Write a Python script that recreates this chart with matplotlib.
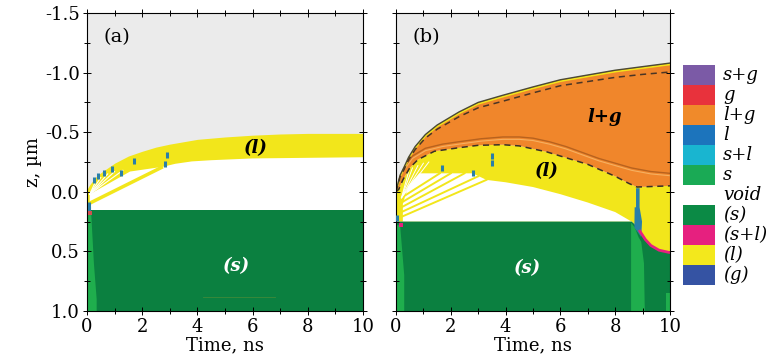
import matplotlib
matplotlib.use('Agg')
import matplotlib.pyplot as plt
from matplotlib.ticker import MultipleLocator, FormatStrFormatter

plt.rcParams['font.family'] = 'DejaVu Serif'
plt.rcParams['axes.unicode_minus'] = False

# ---------------- data (time in ns, z in um) ----------------
# panel (a): liquid band
a_band_t = [0, 0.1, 0.3, 0.5, 1.0, 1.5, 2.0, 2.5, 3.0, 3.5, 4.0, 5.0, 6.0, 7.0, 8.0, 10.0]
a_band_top = [-0.02, -0.06, -0.12, -0.16, -0.24, -0.30, -0.34, -0.375, -0.40, -0.42, -0.44, -0.46, -0.475, -0.485, -0.49, -0.49]
a_void_t = [0.1, 1.56, 2.75, 3.2, 3.8, 4.5, 6.0, 8.0, 10.0]
a_void_top = [0.02, -0.17, -0.21, -0.235, -0.255, -0.265, -0.28, -0.285, -0.29]
a_solid_top = 0.153
a_fan_t = [0.3, 0.5, 0.75, 1.0, 1.3]
a_fan_z = [-0.08, -0.12, -0.15, -0.17, -0.18]
a_streak_t = [0.06, 2.75]
a_streak_z = [0.10, -0.21]
a_lgreen_t = [0, 0.15, 0.25, 0.35, 0.35, 0]
a_lgreen_z = [0.17, 0.17, 0.6, 0.9, 1.0, 1.0]
a_mark_t = [0.08, 0.08, 0.25, 0.4, 0.6, 0.92, 1.22, 1.7, 2.83, 2.91]
a_mark_z = [0.11, 0.15, -0.10, -0.13, -0.16, -0.19, -0.16, -0.26, -0.23, -0.31]

# panel (b): outer surface, gas-liquid zone, liquid, void, solid
b_top_t = [0, 0.05, 0.15, 0.3, 0.46, 0.7, 1.07, 1.5, 2.3, 3.0, 3.9, 5.0, 6.0, 7.0, 8.0, 9.0, 10.0]
b_top_z = [0.0, -0.05, -0.14, -0.21, -0.29, -0.38, -0.48, -0.56, -0.67, -0.75, -0.81, -0.88, -0.94, -0.98, -1.02, -1.05, -1.08]
b_dash_z = [0.0, -0.04, -0.125, -0.19, -0.27, -0.355, -0.45, -0.525, -0.63, -0.705, -0.76, -0.83, -0.89, -0.925, -0.96, -0.985, -1.005]
b_lg_bot_t = [0, 0.1, 0.25, 0.5, 0.8, 1.4, 2.3, 3.0, 3.9, 4.5, 5.0, 5.5, 6.0, 6.5, 7.0, 7.5, 8.0, 8.5, 8.8, 10.0]
b_lg_bot_z = [0.0, -0.02, -0.10, -0.20, -0.27, -0.34, -0.37, -0.39, -0.395, -0.385, -0.36, -0.335, -0.30, -0.265, -0.23, -0.18, -0.13, -0.07, -0.04, -0.05]
b_inner_t = [0.35, 0.6, 1.07, 1.7, 2.3, 3.1, 3.9, 4.5, 5.0, 5.6, 6.2, 6.8, 7.4, 8.0, 8.6, 9.3, 10.0]
b_inner_z = [-0.22, -0.30, -0.365, -0.40, -0.42, -0.445, -0.46, -0.46, -0.45, -0.42, -0.38, -0.33, -0.28, -0.24, -0.20, -0.17, -0.155]
b_void_t = [0.25, 0.45, 0.85, 2.8, 3.3, 4.0, 5.0, 6.0, 7.0, 8.0, 8.6]
b_void_z = [0.10, -0.05, -0.155, -0.155, -0.10, -0.08, -0.04, 0.02, 0.09, 0.17, 0.25]
b_solid_t = [0, 8.6, 8.7, 8.9, 9.1, 9.3, 9.6, 10.0]
b_solid_z = [0.25, 0.25, 0.27, 0.33, 0.40, 0.45, 0.49, 0.51]
b_fan_t0 = [0.2, 0.2, 0.2, 0.2, 0.2]
b_fan_z0 = [0.21, 0.17, 0.13, 0.09, 0.05]
b_fan_t1 = [3.3, 3.0, 2.5, 2.0, 1.6]
b_fan_z1 = [-0.10, -0.13, -0.155, -0.155, -0.155]
b_lgreen_t = [8.58, 8.72, 8.85, 8.95, 9.05, 9.08, 8.58]
b_lgreen_z = [0.26, 0.30, 0.38, 0.42, 0.60, 1.0, 1.0]
b_lgreen0_t = [0, 0.15, 0.3, 0.3, 0]
b_lgreen0_z = [0.28, 0.28, 0.7, 1.0, 1.0]
b_liq_t = [8.76, 8.89, 8.89, 8.98, 8.95, 8.70, 8.71, 8.76]
b_liq_z = [-0.03, -0.03, 0.13, 0.25, 0.38, 0.30, 0.13, 0.13]
b_mark_t = [0.03, 1.69, 2.82, 3.5, 3.5]
b_mark_z = [0.22, -0.20, -0.155, -0.24, -0.30]

# legend
leg_labels = ['s+g', 'g', 'l+g', 'l', 's+l', 's', 'void', '(s)', '(s+l)', '(l)', '(g)']
leg_colors = ['#7b5aa6', '#e8323c', '#f08a2a', '#1c74bc', '#19b5d0', '#1aaa55',
              'white', '#0b8a45', '#e6207f', '#f3e81c', '#3553a3']

GRAY = '#ebebeb'
YEL = '#f2e61b'
ORG = '#f0862b'
DGR = '#0b8040'
LGR = '#1fae4d'
BLU = '#2a7fa8'


def style_axes(ax, show_ylabels):
    ax.set_xlim(0, 10)
    ax.set_ylim(1.0, -1.5)
    ax.set_facecolor(GRAY)
    ax.xaxis.set_major_locator(MultipleLocator(2))
    ax.xaxis.set_minor_locator(MultipleLocator(1))
    ax.yaxis.set_major_locator(MultipleLocator(0.5))
    ax.yaxis.set_minor_locator(MultipleLocator(0.25))
    ax.yaxis.set_major_formatter(FormatStrFormatter('%.1f'))
    ax.tick_params(which='both', direction='inout', top=True, right=True,
                   labelsize=13, width=0.7, pad=2)
    ax.tick_params(which='major', length=6)
    ax.tick_params(which='minor', length=4)
    if not show_ylabels:
        ax.tick_params(labelleft=False)
    ax.set_xlabel('Time, ns', fontsize=13, labelpad=0)
    for s in ax.spines.values():
        s.set_linewidth(0.8)


fig = plt.figure(figsize=(7.71, 3.56), dpi=100)
ax1 = fig.add_axes([87 / 771, 1 - 311 / 356, 276 / 771, 298 / 356])
ax2 = fig.add_axes([396 / 771, 1 - 311 / 356, 274 / 771, 298 / 356])

# ---------------- panel (a) ----------------
ax1.fill_between(a_band_t, a_band_top, a_solid_top, color=YEL, lw=0)
ax1.fill(a_void_t + [10, 0.1], a_void_top + [a_solid_top, a_solid_top], color='white', lw=0)
for t, z in zip(a_fan_t, a_fan_z):
    ax1.plot([0.1, t], [0.02, z], color='white', lw=0.8)
ax1.plot(a_streak_t, a_streak_z, color=YEL, lw=2.5, solid_capstyle='butt')
ax1.fill_between([0, 10], a_solid_top, 1.0, color=DGR, lw=0)
ax1.fill(a_lgreen_t, a_lgreen_z, color=LGR, lw=0)
ax1.plot([4.2, 6.8], [0.88, 0.88], color='#3f8a3a', lw=0.6)
ax1.scatter(a_mark_t, a_mark_z, marker='|', s=22, linewidths=2.2, color=BLU, zorder=5)
ax1.scatter([0.1], [0.18], marker='s', s=6, color='#d05050', zorder=5, lw=0)
ax1.text(1.1, -1.3, '(a)', fontsize=14, ha='center', va='center')
ax1.text(6.1, -0.37, '(l)', fontsize=13, ha='center', va='center',
         fontweight='bold', style='italic')
ax1.text(5.4, 0.62, '(s)', fontsize=13, ha='center', va='center',
         fontweight='bold', style='italic', color='white')
style_axes(ax1, True)
ax1.set_ylabel('z, µm', fontsize=13, labelpad=2)

# ---------------- panel (b) ----------------
ax2.fill(b_lg_bot_t + b_solid_t[::-1], b_lg_bot_z + b_solid_z[::-1], color=YEL, lw=0)
ax2.fill(b_void_t + [0.25], b_void_z + [0.25], color='white', lw=0)
for t0, z0, t1, z1 in zip(b_fan_t0, b_fan_z0, b_fan_t1, b_fan_z1):
    ax2.plot([t0, t1], [z0, z1], color=YEL, lw=1.4)
for t1, z1 in zip([0.45, 0.6, 0.8, 1.0, 1.2], [-0.16, -0.2, -0.22, -0.24, -0.25]):
    ax2.plot([0.2, t1], [0.05, z1], color='white', lw=0.7)
ax2.fill(b_solid_t + [10, 0], b_solid_z + [1.0, 1.0], color=DGR, lw=0)
ax2.plot(b_solid_t[3:], b_solid_z[3:], color='#e6207f', lw=2)
ax2.fill(b_lgreen_t, b_lgreen_z, color=LGR, lw=0)
ax2.fill(b_lgreen0_t, b_lgreen0_z, color=LGR, lw=0)
ax2.fill_between([9.85, 10], 0.85, 1.0, color=LGR, lw=0)
ax2.fill(b_liq_t, b_liq_z, color=BLU, lw=0)
ax2.fill(b_top_t + b_lg_bot_t[::-1], b_top_z + b_lg_bot_z[::-1], color=ORG, lw=0)
ax2.plot(b_inner_t, b_inner_z, color='#b8621e', lw=1.0)
ax2.plot(b_inner_t, [z + 0.02 for z in b_inner_z], color='#f6b060', lw=0.8)
ax2.plot(b_top_t, [z + 0.012 for z in b_top_z], color=YEL, lw=1.2)
ax2.plot(b_top_t, b_top_z, color='#4a4a35', lw=1.0)
ax2.plot(b_top_t, b_dash_z, color='#4a3525', lw=1.1, ls=(0, (4, 3)))
ax2.plot(b_lg_bot_t, b_lg_bot_z, color='#3a3025', lw=1.1, ls=(0, (4, 3)))
ax2.scatter(b_mark_t, b_mark_z, marker='|', s=22, linewidths=2.2, color=BLU, zorder=5)
ax2.scatter([0.2], [0.28], marker='s', s=10, color='#e6207f', zorder=5, lw=0)
ax2.text(1.1, -1.3, '(b)', fontsize=14, ha='center', va='center')
ax2.text(7.6, -0.63, 'l+g', fontsize=13, ha='center', va='center',
         fontweight='bold', style='italic')
ax2.text(5.5, -0.17, '(l)', fontsize=13, ha='center', va='center',
         fontweight='bold', style='italic')
ax2.text(4.8, 0.64, '(s)', fontsize=13, ha='center', va='center',
         fontweight='bold', style='italic', color='white')
style_axes(ax2, False)

# ---------------- legend column ----------------
lax = fig.add_axes([683 / 771, 1 - 285 / 356, 32 / 771, 220 / 356])
lax.barh(range(len(leg_labels)), [1] * len(leg_labels), height=1.0, left=0,
         color=leg_colors, align='edge')
lax.set_xlim(0, 1)
lax.set_ylim(len(leg_labels), 0)
lax.axis('off')
for i, lab in enumerate(leg_labels):
    lax.text(1.25, i + 0.5, lab, fontsize=13, style='italic', ha='left',
             va='center', clip_on=False)

fig.savefig('out.png', dpi=100)
